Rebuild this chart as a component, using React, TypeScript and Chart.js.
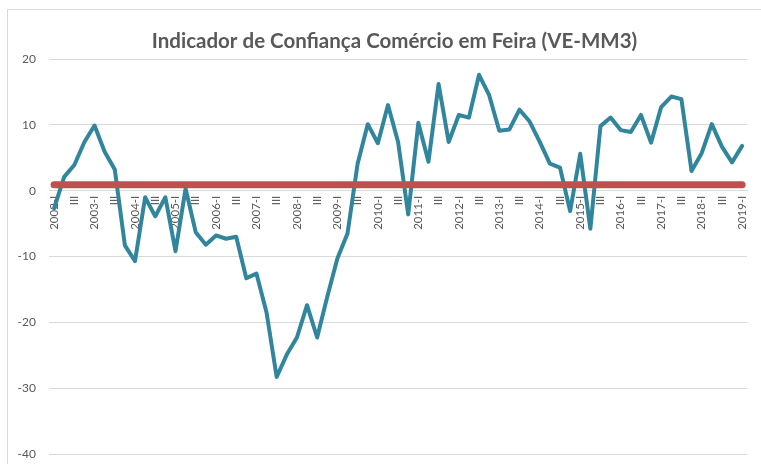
import React, { useEffect, useRef } from "react";
import { Chart, registerables } from "chart.js";

Chart.register(...registerables);

const TITLE = "Indicador de Confiança Comércio em Feira (VE-MM3)";

const categories = [
  "2002-I", "II", "III", "IV",
  "2003-I", "II", "III", "IV",
  "2004-I", "II", "III", "IV",
  "2005-I", "II", "III", "IV",
  "2006-I", "II", "III", "IV",
  "2007-I", "II", "III", "IV",
  "2008-I", "II", "III", "IV",
  "2009-I", "II", "III", "IV",
  "2010-I", "II", "III", "IV",
  "2011-I", "II", "III", "IV",
  "2012-I", "II", "III", "IV",
  "2013-I", "II", "III", "IV",
  "2014-I", "II", "III", "IV",
  "2015-I", "II", "III", "IV",
  "2016-I", "II", "III", "IV",
  "2017-I", "II", "III", "IV",
  "2018-I", "II", "III", "IV",
  "2019-I",
];

const confianca = [
  -2.7, 2.1, 3.9, 7.4,
  9.9, 5.9, 3.2, -8.3,
  -10.7, -1.0, -3.9, -1.0,
  -9.2, 0.3, -6.3, -8.2,
  -6.8, -7.3, -7.0, -13.3,
  -12.6, -18.5, -28.3, -24.9,
  -22.3, -17.4, -22.3, -16.1,
  -10.3, -6.5, 4.1, 10.1,
  7.2, 13.0, 7.4, -3.6,
  10.3, 4.4, 16.2, 7.4,
  11.5, 11.1, 17.6, 14.5,
  9.1, 9.3, 12.3, 10.5,
  7.4, 4.1, 3.5, -3.1,
  5.6, -5.8, 9.8, 11.1,
  9.2, 8.9, 11.5, 7.3,
  12.7, 14.3, 13.9, 3.0,
  5.7, 10.1, 6.7, 4.3,
  6.8,
];

const referenceLevel = 0.9;
const referenceLine = categories.map(() => referenceLevel);

const yMin = -40;
const yMax = 20;
const yStep = 10;

const titlePlugin = {
  id: "customTitle",
  afterDraw(chart: any) {
    const ctx = chart.ctx;
    ctx.save();
    ctx.font = "bold 20.5px Lato";
    ctx.fillStyle = "#595959";
    ctx.textAlign = "center";
    ctx.textBaseline = "middle";
    ctx.fillText(TITLE, 394.5, 41);
    ctx.restore();
  },
};

export default function App() {
  const ref = useRef<HTMLCanvasElement | null>(null);

  useEffect(() => {
    if (!ref.current) return;
    const chart = new Chart(ref.current, {
      type: "line",
      data: {
        labels: categories,
        datasets: [
          {
            label: "Referência",
            data: referenceLine,
            borderColor: "#C0504D",
            backgroundColor: "#C0504D",
            borderWidth: 7,
            borderCapStyle: "round",
            pointRadius: 0,
            pointHoverRadius: 0,
            tension: 0,
            order: 0,
          },
          {
            label: "Confiança",
            data: confianca,
            borderColor: "#31859C",
            backgroundColor: "#31859C",
            borderWidth: 4,
            borderJoinStyle: "round",
            borderCapStyle: "round",
            pointRadius: 0,
            pointHoverRadius: 0,
            tension: 0,
            order: 1,
          },
        ],
      },
      options: {
        responsive: false,
        animation: false,
        devicePixelRatio: 1,
        layout: { padding: { top: 59, bottom: 10, left: 0, right: 10 } },
        plugins: {
          legend: { display: false },
          title: { display: false },
          tooltip: { enabled: false },
        },
        scales: {
          x: {
            type: "category",
            offset: true,
            position: { y: 0 } as any,
            grid: { display: false, drawTicks: false },
            border: { display: true, color: "#d9d9d9" },
            ticks: {
              autoSkip: false,
              minRotation: 90,
              maxRotation: 90,
              padding: 5,
              color: "#595959",
              font: { size: 11.5, family: "Lato" },
              callback: (_v: any, i: number) => (i % 2 === 0 ? categories[i] : null),
            },
          },
          y: {
            min: yMin,
            max: yMax,
            ticks: {
              stepSize: yStep,
              padding: 0,
              color: "#595959",
              font: { size: 12, family: "Lato" },
            },
            grid: {
              color: "#d9d9d9",
              drawTicks: true,
              tickLength: 13,
              tickColor: "rgba(0,0,0,0)",
            },
            border: { display: false },
            afterFit: (s: any) => {
              s.width = 49;
            },
          },
        },
      },
      plugins: [titlePlugin],
    });
    return () => chart.destroy();
  }, []);

  return (
    <div
      style={{
        position: "fixed",
        left: 0,
        top: 0,
        width: 761,
        height: 464,
        overflow: "hidden",
        background: "#fff",
      }}
    >
      <div
        style={{
          position: "absolute",
          left: 7,
          top: 9,
          width: 800,
          height: 500,
          border: "1px solid #d9d9d9",
        }}
      />
      <canvas
        ref={ref}
        width={761}
        height={464}
        style={{ position: "absolute", left: 0, top: 0, width: 761, height: 464 }}
      />
    </div>
  );
}
